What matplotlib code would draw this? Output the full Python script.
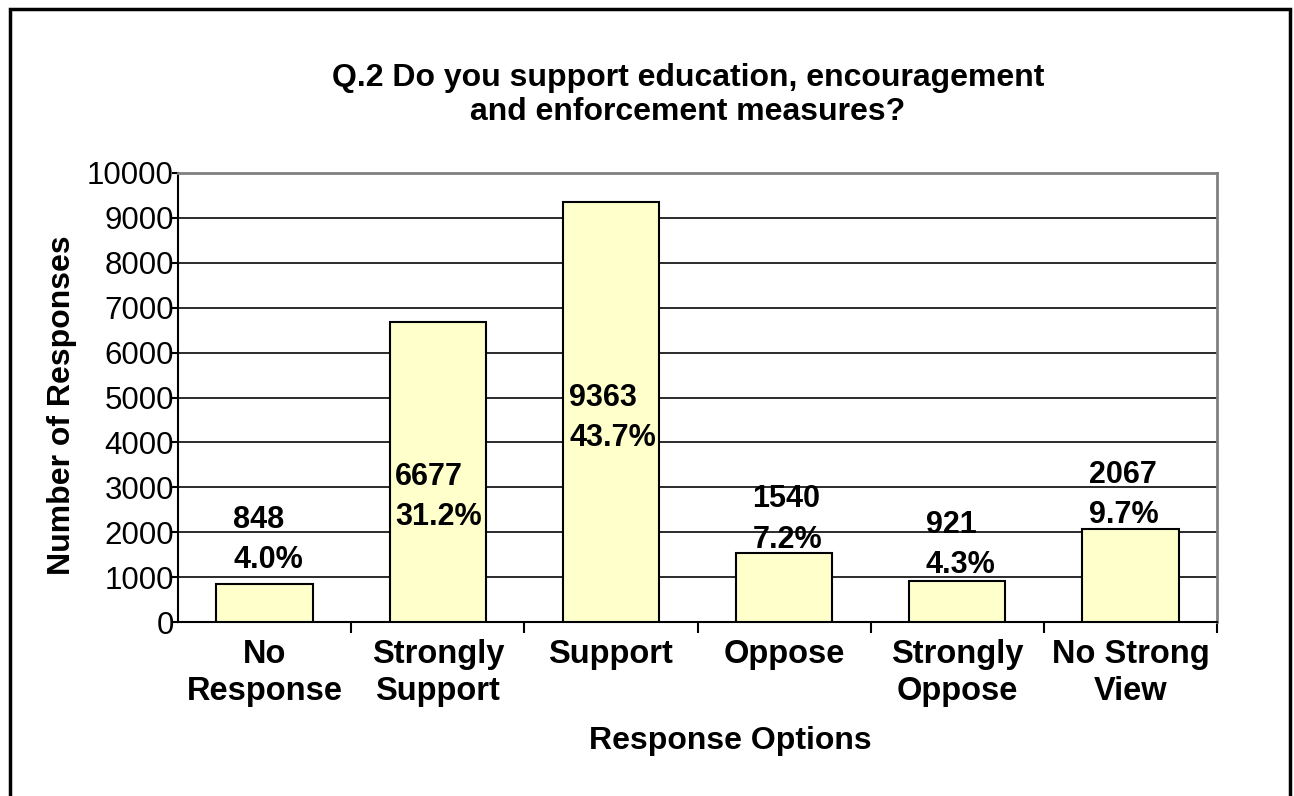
import matplotlib
matplotlib.use("Agg")
import matplotlib.pyplot as plt
from matplotlib.patches import Rectangle
from matplotlib.ticker import MultipleLocator, FixedLocator

plt.rcParams['font.family'] = ['Liberation Sans', 'DejaVu Sans']

categories = ["No\nResponse", "Strongly\nSupport", "Support", "Oppose",
              "Strongly\nOppose", "No Strong\nView"]
counts = [848, 6677, 9363, 1540, 921, 2067]
percents = ["4.0%", "31.2%", "43.7%", "7.2%", "4.3%", "9.7%"]

# where each two-line label box sits (left edge offset from bar centre, centre height)
label_dx = [-0.182, -0.246, -0.240, -0.182, -0.182, -0.240]
label_y = [1820, 2780, 4550, 2280, 1720, 2830]

W, H = 1294, 796
fig = plt.figure(figsize=(W / 100, H / 100), dpi=100)
ax = fig.add_axes([178 / W, 1 - 622 / H, (1217 - 178) / W, (622 - 173) / H])

x = list(range(len(categories)))
ax.bar(x, counts, width=0.556, color="#FFFFCC", edgecolor="black", linewidth=1.5, zorder=3)

ax.set_xlim(-0.5, len(categories) - 0.5)
ax.set_ylim(0, 10000)
ax.yaxis.set_major_locator(MultipleLocator(1000))
ax.grid(axis="y", color="#1a1a1a", linewidth=1.3, zorder=1)
ax.set_axisbelow(True)

for side in ["top", "right"]:
    ax.spines[side].set_color("#808080")
    ax.spines[side].set_linewidth(2)
for side in ["left", "bottom"]:
    ax.spines[side].set_color("black")
    ax.spines[side].set_linewidth(1.5)

ax.set_xticks(x)
ax.set_xticklabels(categories, fontsize=23.5, fontweight="bold", linespacing=1.27)
ax.tick_params(axis="x", which="major", length=0, pad=12)
ax.xaxis.set_minor_locator(FixedLocator([i + 0.5 for i in x]))
ax.tick_params(axis="x", which="minor", length=8, width=1.5, direction="out")
ax.tick_params(axis="y", labelsize=22.5, length=4, width=1.5, pad=-1)

for i, (c, p) in enumerate(zip(counts, percents)):
    ax.text(i + label_dx[i], label_y[i], f"{c}\n{p}", ha="left", va="center",
            fontsize=22, fontweight="bold", linespacing=1.45, zorder=4)

fig.text(688 / W, 1 - 95 / H,
         "Q.2 Do you support education, encouragement\nand enforcement measures?",
         ha="center", va="center", fontsize=23, fontweight="bold", linespacing=1.2)
fig.text(62 / W, 1 - 405 / H, "Number of Responses", rotation=90,
         ha="center", va="center", fontsize=23, fontweight="bold")
fig.text(730 / W, 1 - 741 / H, "Response Options",
         ha="center", va="center", fontsize=23, fontweight="bold")

# chart frame
fig.add_artist(Rectangle((10 / W, -0.02), (1290 - 10) / W, 1.02 - 9 / H,
                         transform=fig.transFigure, fill=False,
                         edgecolor="black", linewidth=2.5))

fig.savefig("out.png", dpi=100)
